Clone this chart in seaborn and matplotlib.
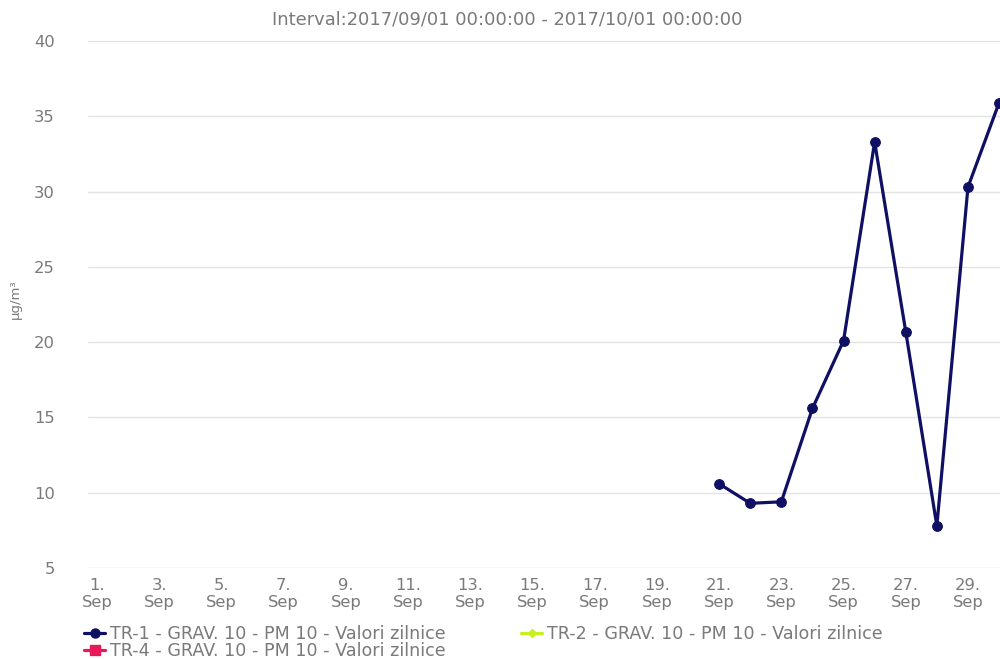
import matplotlib
matplotlib.use("Agg")
import matplotlib.pyplot as plt
import seaborn as sns
import pandas as pd
from matplotlib.lines import Line2D

# ---- data ----
days_tr1 = [21, 22, 23, 24, 25, 26, 27, 28, 29, 30]
values_tr1 = [10.6, 9.3, 9.4, 15.6, 20.1, 33.3, 20.7, 7.8, 30.3, 35.9]
tick_days = [1, 3, 5, 7, 9, 11, 13, 15, 17, 19, 21, 23, 25, 27, 29]
tick_labels = [f"{d}.\nSep" for d in tick_days]
y_ticks = [5, 10, 15, 20, 25, 30, 35, 40]
series_names = ["TR-1 - GRAV. 10 - PM 10 - Valori zilnice",
                "TR-2 - GRAV. 10 - PM 10 - Valori zilnice",
                "TR-4 - GRAV. 10 - PM 10 - Valori zilnice"]
title = "Interval:2017/09/01 00:00:00 - 2017/10/01 00:00:00"
y_label = "µg/m³"

sns.set_theme(style="white")
plt.rcParams['font.family'] = ['DejaVu Sans']

c1, c2, c4 = "#0f0f63", "#c6f01e", "#e8195a"
txt = "#7a7a7a"

fig = plt.figure(figsize=(10, 6.59), dpi=100)
ax = fig.add_axes([0.088, 0.138, 0.912, 0.7997])

df = pd.DataFrame({"day": days_tr1, "value": values_tr1})
sns.lineplot(data=df, x="day", y="value", ax=ax, color=c1, linewidth=2.3,
             marker="o", markersize=7, markeredgecolor=c1, clip_on=False)

ax.set_xlim(0.71, 30.03)
ax.set_ylim(5, 40)
ax.set_yticks(y_ticks)
ax.set_xticks(tick_days)
ax.set_xticklabels(tick_labels, fontsize=11.8, color=txt, linespacing=1.15)
ax.tick_params(axis='y', labelsize=11.8, labelcolor=txt, length=0, pad=24)
ax.tick_params(axis='x', length=0, pad=7)
ax.grid(axis='y', color="#e3e3e3", linewidth=1)
ax.grid(axis='x', visible=False)
for s in ax.spines.values():
    s.set_visible(False)
ax.set_xlabel("")
ax.set_ylabel(y_label, fontsize=9.5, color=txt)
ax.yaxis.set_label_coords(-0.073, 0.51)

fig.text(0.507, 0.970, title, ha="center", va="center", fontsize=12.9, color=txt)

handles = [
    Line2D([], [], color=c1, lw=2.3, marker="o", markersize=6.5),
    Line2D([], [], color=c4, lw=2.3, marker="s", markersize=6.5),
    Line2D([], [], color=c2, lw=2.3, marker="D", markersize=4),
]
labels = [series_names[0], series_names[2], series_names[1]]
fig.legend(handles, labels, ncol=2, loc="upper left", bbox_to_anchor=(0.084, 0.052),
           frameon=False, fontsize=12.6, labelcolor=txt, handlelength=1.2,
           handletextpad=0.3, columnspacing=4.3, labelspacing=-0.05,
           borderpad=0, borderaxespad=0)

fig.savefig("out.png", dpi=100)
